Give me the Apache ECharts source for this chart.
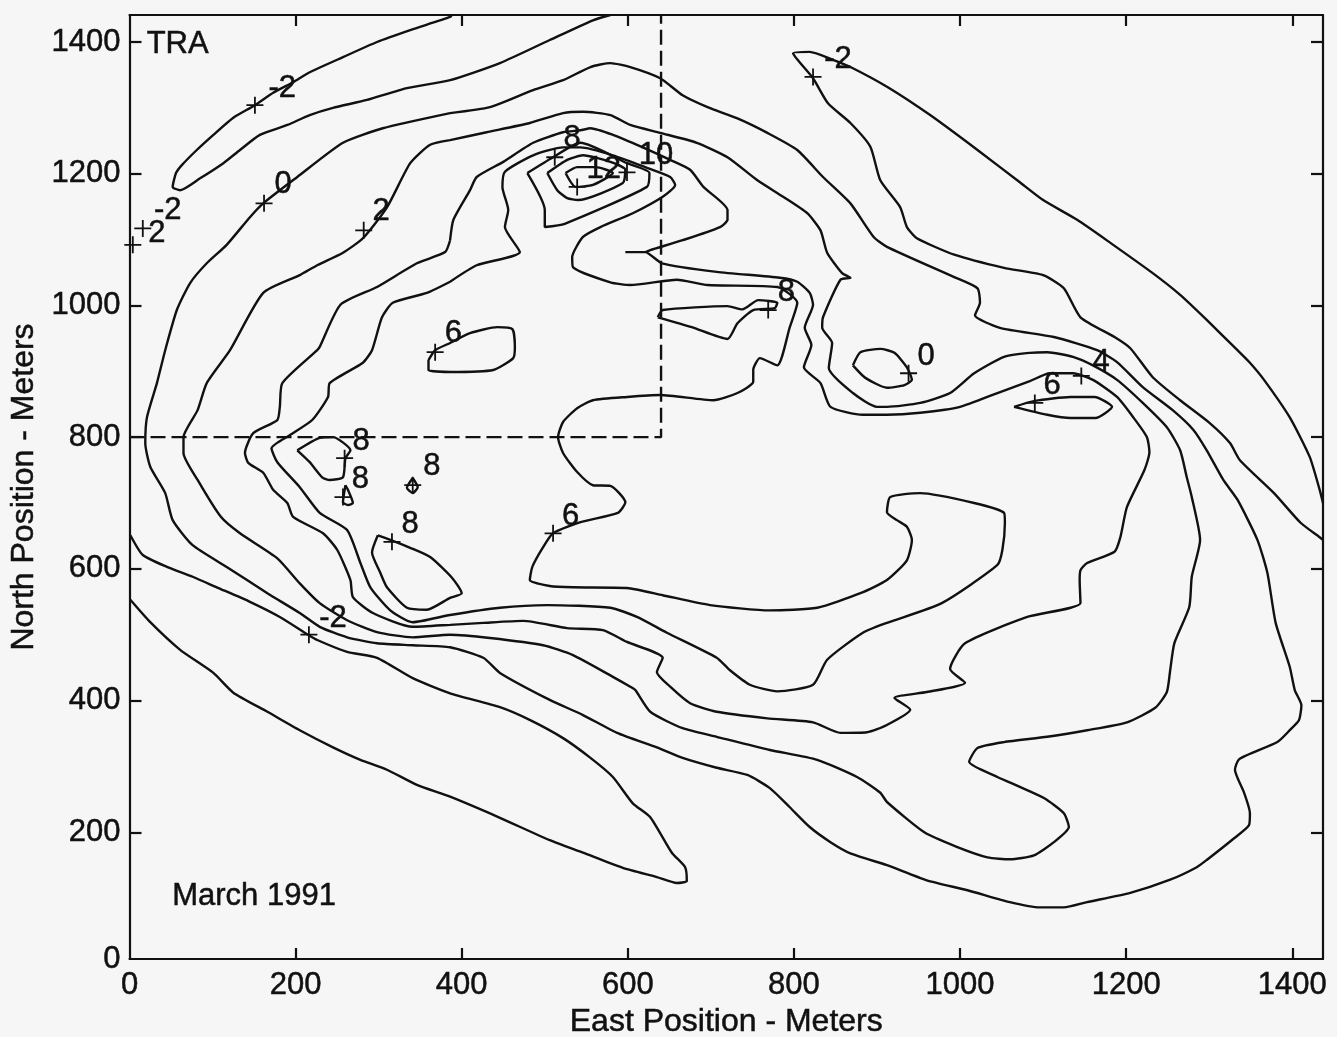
<!DOCTYPE html>
<html>
<head>
<meta charset="utf-8">
<style>html,body{margin:0;padding:0;background:#f6f6f6}#chart{width:1337px;height:1037px}</style>
<script src="https://cdn.jsdelivr.net/npm/echarts@6/dist/echarts.min.js"></script>
</head>
<body>
<div id="chart"></div>
<script>
const xTickValues = [200,400,600,800,1000,1200,1400];
const xLabelValues = [0,200,400,600,800,1000,1200,1400];
const yTickValues = [200,400,600,800,1000,1200,1400];
const xMax = 1437;
const yMin = 7.6;
const yMax = 1441;
const yLabelValues = [yMin,200,400,600,800,1000,1200,1400];

const contourNorthWest = [[388,1441],[386,1438],[338,1418],[298,1400],[257,1377],[217,1354],[197,1339],[173,1323],[151,1304],[125,1285],[101,1259],[81,1236],[63,1213],[56,1201],[52,1180],[61,1175],[85,1193],[113,1216],[133,1236],[157,1259],[190,1274],[217,1289],[245,1300],[286,1312],[334,1330],[386,1342],[446,1368],[506,1403],[558,1433],[579,1441]];
const contourNorthEast = [[1437,700],[1433,720],[1421,770],[1397,830],[1366,887],[1349,913],[1334,932],[1297,978],[1265,1016],[1232,1049],[1181,1095],[1141,1130],[1100,1160],[1072,1187],[1021,1236],[964,1289],[912,1332],[868,1362],[847,1373],[819,1385],[799,1383],[823,1345],[841,1307],[868,1277],[892,1241],[904,1190],[928,1149],[936,1119],[948,1102],[993,1077],[1053,1057],[1100,1046],[1125,1026],[1145,982],[1186,952],[1205,935],[1232,891],[1265,856],[1301,821],[1325,791],[1337,765],[1378,715],[1410,670],[1433,648],[1437,644]];
const contourSouthWest = [[1,651],[16,621],[45,603],[76,588],[105,572],[145,550],[181,527],[215,500],[226,492],[262,474],[298,465],[341,434],[386,411],[446,390],[483,370],[522,343],[555,313],[582,284],[606,244],[627,223],[653,169],[669,147],[671,126],[659,123],[635,132],[594,146],[546,169],[506,188],[446,222],[386,254],[346,272],[310,295],[278,310],[245,329],[205,355],[166,383],[125,412],[101,442],[61,477],[25,519],[1,553]];
const contourZero = [[386,1292],[434,1301],[486,1327],[522,1342],[555,1362],[579,1368],[603,1362],[639,1345],[666,1319],[696,1301],[732,1284],[768,1262],[804,1236],[835,1195],[868,1155],[896,1104],[912,1089],[993,1043],[1021,1026],[1024,1004],[1018,985],[1048,966],[1113,952],[1165,932],[1189,914],[1220,876],[1256,841],[1281,811],[1297,780],[1317,735],[1334,705],[1358,644],[1370,594],[1380,518],[1397,451],[1403,416],[1411,393],[1408,370],[1397,355],[1382,337],[1336,311],[1331,295],[1342,260],[1349,229],[1348,211],[1330,191],[1297,158],[1285,147],[1253,128],[1205,108],[1153,94],[1125,86],[1096,86],[1060,94],[1009,112],[960,127],[912,150],[868,168],[844,185],[819,208],[795,238],[771,267],[744,287],[707,298],[666,313],[635,329],[587,351],[546,378],[506,401],[446,442],[426,465],[386,481],[341,484],[298,487],[262,496],[229,512],[205,533],[166,563],[117,603],[76,636],[52,674],[43,715],[25,755],[19,791],[21,830],[33,882],[43,932],[57,993],[73,1034],[93,1064],[117,1092],[145,1134],[161,1155],[202,1195],[257,1247],[305,1269],[386,1292]];
const contourTwo = [[386,1251],[430,1263],[482,1277],[522,1292],[546,1294],[579,1289],[603,1274],[639,1262],[683,1247],[720,1225],[756,1190],[787,1165],[816,1140],[832,1114],[840,1080],[858,1049],[868,1042],[856,1039],[835,982],[834,966],[846,943],[842,905],[871,867],[900,846],[912,846],[952,852],[988,867],[1017,897],[1053,922],[1084,928],[1105,929],[1136,922],[1160,909],[1189,887],[1220,852],[1249,815],[1265,780],[1273,739],[1279,709],[1289,644],[1279,588],[1276,542],[1258,487],[1253,446],[1249,413],[1235,389],[1201,367],[1153,355],[1105,345],[1053,337],[1021,328],[1011,307],[1045,284],[1072,269],[1101,252],[1125,229],[1131,208],[1113,185],[1089,165],[1060,159],[1033,162],[996,178],[957,200],[912,246],[904,260],[876,284],[828,310],[771,325],[707,345],[666,358],[627,383],[609,416],[603,421],[582,436],[534,469],[498,484],[434,495],[386,500],[341,496],[298,504],[262,522],[229,548],[205,578],[178,616],[133,654],[110,679],[82,735],[65,776],[65,800],[82,841],[93,882],[121,932],[161,1019],[205,1046],[226,1061],[257,1080],[281,1102],[310,1149],[338,1216],[362,1244],[386,1251]];
const contourFour = [[386,1099],[390,1130],[410,1175],[418,1195],[450,1218],[486,1247],[522,1263],[543,1266],[555,1269],[582,1259],[618,1240],[651,1221],[675,1206],[691,1180],[720,1145],[720,1130],[711,1119],[666,1099],[627,1084],[621,1081],[597,1081],[621,1081],[641,1064],[707,1051],[783,1042],[804,1036],[819,1019],[823,1001],[813,966],[821,940],[812,906],[832,882],[844,846],[883,834],[912,834],[952,837],[1000,846],[1045,867],[1084,885],[1108,897],[1136,897],[1160,887],[1189,861],[1208,831],[1225,800],[1228,777],[1222,750],[1201,694],[1193,648],[1186,626],[1153,609],[1145,598],[1144,583],[1145,548],[1081,527],[1006,487],[988,448],[1006,427],[960,413],[921,404],[940,386],[912,363],[888,352],[856,351],[823,367],[768,373],[707,383],[675,396],[651,421],[635,443],[642,465],[599,489],[570,507],[527,510],[474,521],[426,518],[386,515],[341,512],[293,533],[269,557],[266,583],[250,629],[233,654],[197,679],[190,700],[173,720],[161,746],[143,761],[139,776],[149,806],[178,826],[181,846],[184,882],[226,932],[229,937],[254,1001],[298,1028],[346,1064],[380,1081],[386,1099]];
const contourSix = [[386,1036],[418,1061],[470,1081],[452,1119],[456,1145],[449,1180],[452,1203],[486,1228],[522,1240],[543,1240],[582,1228],[623,1209],[651,1195],[657,1183],[642,1165],[606,1140],[567,1119],[546,1104],[533,1073],[534,1058],[579,1035],[603,1031],[659,1039],[696,1031],[780,1028],[804,1004],[795,967],[780,909],[759,920],[751,902],[751,884],[732,867],[703,856],[639,864],[599,861],[558,856],[539,844],[522,823],[516,800],[522,776],[539,747],[558,727],[579,726],[597,701],[588,685],[543,671],[510,654],[498,633],[485,603],[482,583],[506,574],[534,572],[599,571],[642,560],[699,545],[771,537],[828,541],[880,563],[912,583],[936,613],[942,644],[936,664],[924,674],[912,686],[916,709],[952,715],[1017,700],[1053,685],[1054,670],[1051,629],[1045,606],[978,548],[912,518],[883,503],[840,462],[823,424],[780,414],[747,424],[723,446],[707,465],[647,503],[611,527],[579,541],[503,545],[446,541],[386,530],[341,519],[314,537],[290,572],[278,609],[262,659],[229,685],[205,724],[178,762],[171,783],[193,803],[220,826],[239,861],[241,882],[281,913],[292,932],[304,982],[317,1004],[358,1019],[386,1036]];
const peakEight = [[479,1201],[500,1145],[500,1119],[524,1124],[623,1180],[626,1201],[599,1216],[543,1247],[510,1225],[479,1201]];
const peakTen = [[503,1201],[515,1175],[527,1163],[540,1160],[594,1186],[597,1206],[579,1218],[546,1228],[527,1221],[503,1201]];
const peakTwelve = [[525,1201],[537,1180],[558,1183],[582,1201],[561,1210],[539,1210],[525,1201]];
const blobSixNorth = [[360,917],[368,932],[386,943],[410,958],[443,967],[461,964],[464,937],[462,920],[438,902],[386,899],[360,902],[360,917]];
const blobEightMiddle = [[636,982],[642,993],[720,999],[738,994],[757,1008],[780,1004],[777,996],[751,993],[732,973],[720,949],[677,967],[636,982]];
const blobZeroEast = [[871,909],[880,929],[904,934],[921,928],[936,906],[942,887],[933,879],[912,875],[886,890],[871,909]];
const blobSixEast = [[1065,846],[1090,855],[1133,861],[1162,861],[1183,846],[1163,829],[1133,829],[1105,834],[1065,846]];
const blobEightWest = [[202,780],[229,799],[245,800],[266,780],[260,768],[257,739],[241,735],[232,739],[217,762],[202,780]];
const blobEightSmall = [[260,727],[257,701],[263,697],[269,700],[263,720],[260,727]];
const blobEightTiny = [[341,738],[334,723],[341,715],[347,724],[341,738]];
const blobEightSouth = [[299,651],[292,625],[302,594],[310,572],[334,541],[358,538],[386,556],[400,563],[388,587],[362,618],[338,632],[314,644],[299,651]];
const regionBoundary = [[0,800],[640,800],[640,1441]];

const contourMarkers = [[151,1304],[162,1155],[282,1114],[16,1117],[4,1092],[823,1347],[512,1225],[599,1202],[539,1180],[368,929],[769,993],[259,768],[257,709],[341,727],[316,641],[510,654],[216,500],[938,897],[1146,893],[1090,852]];
const contourLabels = [[184,1332,'-2'],[185,1186,'0'],[303,1145,'2'],[46,1148,'-2'],[33,1113,'2'],[853,1376,'-2'],[533,1257,'8'],[634,1231,'10'],[571,1209,'12'],[390,960,'6'],[791,1023,'8'],[279,796,'8'],[278,739,'8'],[364,758,'8'],[338,670,'8'],[531,683,'6'],[245,527,'-2'],[959,925,'0'],[1170,917,'4'],[1111,882,'6']];
const plotNotes = [[58,1400,'TRA'],[150,105,'March 1991']];

const ink = '#111111';
const fontFamily = '"Liberation Sans", Arial, sans-serif';
const heavyText = {color:ink,fontFamily,textBorderColor:ink,textBorderWidth:0.5};

const contourLines = [contourNorthWest,contourNorthEast,contourSouthWest,contourZero,contourTwo,contourFour,contourSix,peakEight,peakTen,peakTwelve,blobSixNorth,blobEightMiddle,blobZeroEast,blobSixEast,blobEightWest,blobEightSmall,blobEightTiny,blobEightSouth];

const series = contourLines.map(d => ({
  type:'line', data:d, showSymbol:false, symbol:'none', smooth:0.2, animation:false,
  lineStyle:{color:ink,width:2.4}, silent:true
}));
series.push({type:'line',data:regionBoundary,showSymbol:false,symbol:'none',silent:true,
  lineStyle:{color:ink,width:2.4,type:[15,6]}});
series.push({type:'scatter',data:contourMarkers,silent:true,symbolSize:17,
  symbol:'path://M0 10H20M10 0V20',
  itemStyle:{color:'none',borderColor:ink,borderWidth:1.8,opacity:1}});
const textSeries = (data,size) => ({type:'scatter',data,silent:true,symbolSize:1,
  itemStyle:{color:'transparent',opacity:1},
  label:{show:true,position:'inside',offset:[0,2],fontSize:size,...heavyText,formatter:p=>p.value[2]}});
series.push(textSeries(contourLabels,31));
series.push(textSeries(plotNotes,31));

const lineStyle = {color:ink,width:2.2};
const chart = echarts.init(document.getElementById('chart'),null,{renderer:'canvas'});
chart.setOption({
  animation:false,
  backgroundColor:'#f6f6f6',
  grid:{left:129.5,top:15,width:1193.5,height:944,containLabel:false,outerBoundsMode:'none'},
  xAxis:[
    {type:'value',position:'bottom',min:0,max:xMax,splitLine:{show:false},
     axisLine:{lineStyle,onZero:false},
     axisTick:{inside:true,length:11,lineStyle,customValues:xTickValues},
     axisLabel:{margin:11,fontSize:31,...heavyText,customValues:xLabelValues,hideOverlap:false,formatter:v=>String(v)},
     name:'East Position - Meters',nameLocation:'middle',nameGap:47,
     nameTextStyle:{fontSize:32,...heavyText,verticalAlign:'middle'}},
    {type:'value',position:'top',min:0,max:xMax,splitLine:{show:false},
     axisLine:{lineStyle,onZero:false},
     axisTick:{inside:true,length:11,lineStyle,customValues:xTickValues},
     axisLabel:{show:false}}
  ],
  yAxis:[
    {type:'value',position:'left',min:yMin,max:yMax,splitLine:{show:false},
     axisLine:{lineStyle,onZero:false},
     axisTick:{inside:true,length:12,lineStyle,customValues:yTickValues},
     axisLabel:{margin:9,fontSize:31,padding:[3,0,0,0],...heavyText,customValues:yLabelValues,
       formatter:v=>v===yMin?'0':String(v)},
     name:'North Position - Meters',nameLocation:'middle',nameGap:98,
     nameTextStyle:{fontSize:32,...heavyText,verticalAlign:'middle'}},
    {type:'value',position:'right',min:yMin,max:yMax,splitLine:{show:false},
     axisLine:{lineStyle,onZero:false},
     axisTick:{inside:true,length:12,lineStyle,customValues:yTickValues},
     axisLabel:{show:false}}
  ],
  series
});
</script>
</body>
</html>
